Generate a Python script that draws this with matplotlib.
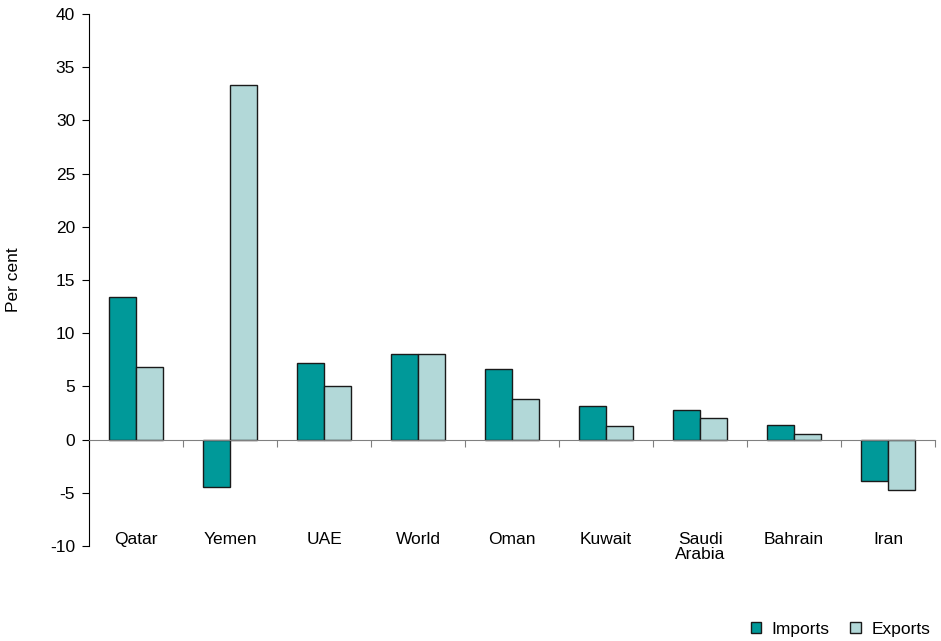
import numpy as np
import matplotlib.pyplot as plt
from matplotlib.patches import Patch

# Data
countries = ['Qatar', 'Yemen', 'UAE', 'World', 'Oman', 'Kuwait', 'Saudi\nArabia', 'Bahrain', 'Iran']
imports = [13.4, -4.5, 7.2, 8.0, 6.6, 3.2, 2.8, 1.4, -3.9]
exports = [6.8, 33.3, 5.0, 8.0, 3.8, 1.3, 2.0, 0.5, -4.7]

imp_color = '#009999'
exp_color = '#B2D8D8'

plt.rcParams['font.family'] = ['Liberation Sans', 'DejaVu Sans']
plt.rcParams['axes.unicode_minus'] = False

fig = plt.figure(figsize=(9.41, 6.41), dpi=100)
ax = fig.add_axes([89/941, 1-546/641, (935-89)/941, (546-14)/641])

x = np.arange(len(countries))
w = 0.29
ax.bar(x - w/2, imports, w, color=imp_color, edgecolor='#1a1a1a', linewidth=1)
ax.bar(x + w/2, exports, w, color=exp_color, edgecolor='#1a1a1a', linewidth=1)

ax.set_xlim(-0.5, len(countries) - 0.5)
ax.set_ylim(-10, 40)
ax.set_yticks(range(-10, 41, 5))
ax.tick_params(axis='y', labelsize=12.5, length=5, pad=5, direction='out', color='black')

# category axis runs through zero
ax.spines['bottom'].set_position(('data', 0))
ax.spines['bottom'].set_color('#808080')
ax.spines['top'].set_visible(False)
ax.spines['right'].set_visible(False)
ax.spines['left'].set_color('black')
ax.set_xticks(np.arange(len(countries) + 1) - 0.5)
ax.set_xticklabels([])
ax.tick_params(axis='x', length=5, direction='out', color='#808080')

for i, name in enumerate(countries):
    ax.text(i, -8.7, name, ha='center', va='top', fontsize=12.5, linespacing=1.0)

ax.set_ylabel('Per cent', fontsize=12.5)
ax.yaxis.set_label_coords(-0.08, 0.5)

handles = [Patch(facecolor=imp_color, edgecolor='#1a1a1a'),
           Patch(facecolor=exp_color, edgecolor='#1a1a1a')]
fig.legend(handles, ['Imports', 'Exports'], ncol=2, frameon=False, fontsize=12.5,
           loc='lower right', bbox_to_anchor=(1.005, -0.018), handlelength=0.6,
           handleheight=0.6, handletextpad=0.6, columnspacing=1.2)

fig.savefig('out.png', dpi=100)
